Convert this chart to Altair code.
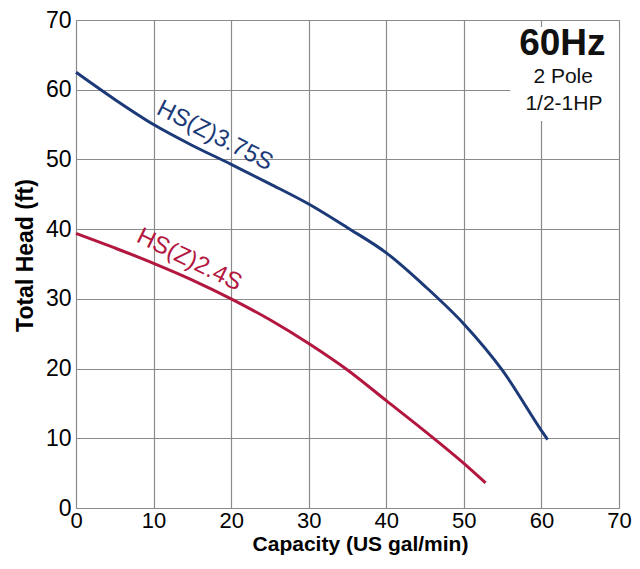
import altair as alt
import pandas as pd

# Curve data
blue_x = [0, 5, 10, 15, 20, 25, 30, 35, 40, 45, 50, 55, 60, 60.8]
blue_y = [62.5, 58.6, 55.0, 52.0, 49.3, 46.5, 43.6, 40.2, 36.6, 31.8, 26.4, 19.7, 11.1, 9.8]
red_x = [0, 5, 10, 15, 20, 25, 30, 35, 40, 45, 50, 52.8]
red_y = [39.4, 37.3, 35.1, 32.7, 30.0, 27.0, 23.6, 19.8, 15.4, 11.0, 6.4, 3.6]

series_names = ["HS(Z)3.75S", "HS(Z)2.4S"]
series_colors = ["#1c3a78", "#b3173f"]

# Curve labels (data coordinates and angle)
label_x = [17.9, 14.6]
label_y = [53.4, 35.6]
label_angle = [27, 26]

# Annotation block
note_text = ["60Hz", "2 Pole", "1/2-1HP"]
note_x = [62.7, 62.8, 62.9]
note_y = [66.6, 61.8, 57.9]
note_size = [37, 21, 21]
note_weight = ["bold", "normal", "normal"]

ticks = [0, 10, 20, 30, 40, 50, 60, 70]

FONT = "Liberation Sans"

rows = []
for xv, yv in zip(blue_x, blue_y):
    rows.append({"q": xv, "h": yv, "s": series_names[0]})
for xv, yv in zip(red_x, red_y):
    rows.append({"q": xv, "h": yv, "s": series_names[1]})
curves = pd.DataFrame(rows)

xs = alt.Scale(domain=[0, 70], nice=False, zero=False)
ys = alt.Scale(domain=[0, 70], nice=False, zero=False)
color = alt.Scale(domain=series_names, range=series_colors)

base_x = alt.X("q:Q", scale=xs, title="Capacity (US gal/min)",
               axis=alt.Axis(values=ticks, grid=True, ticks=False, domain=False,
                             labelFontSize=22, labelFont=FONT, labelColor="black",
                             labelPadding=2, titleFontSize=21, titleFont=FONT,
                             titleFontWeight="bold", titleColor="black",
                             titlePadding=2, titleX=284, gridColor="#8a8a8a", gridWidth=1.2,
                             labelFlush=False))
base_y = alt.Y("h:Q", scale=ys, title="Total Head (ft)",
               axis=alt.Axis(values=ticks, grid=True, ticks=False, domain=False,
                             labelFontSize=23, labelFont=FONT, labelColor="black",
                             labelPadding=5, titleFontSize=23, titleFont=FONT,
                             titleFontWeight="bold", titleColor="black",
                             titlePadding=8, titleY=235, gridColor="#8a8a8a", gridWidth=1.2,
                             labelFlush=False))

lines = alt.Chart(curves).mark_line(strokeWidth=3, interpolate="monotone").encode(
    x=base_x, y=base_y,
    color=alt.Color("s:N", scale=color, legend=None),
    detail="s:N",
)

box = alt.Chart(pd.DataFrame({"x1": [56.0], "x2": [70.0], "y1": [55.5], "y2": [69.0]})).mark_rect(
    color="white").encode(
    x=alt.X("x1:Q", scale=xs), x2="x2:Q",
    y=alt.Y("y1:Q", scale=ys), y2="y2:Q",
)

labels_df = pd.DataFrame({"x": label_x, "y": label_y, "t": series_names, "a": label_angle})
curve_labels = []
for i in range(len(series_names)):
    curve_labels.append(
        alt.Chart(labels_df.iloc[[i]]).mark_text(
            font=FONT, fontSize=24, angle=label_angle[i], color=series_colors[i]
        ).encode(x=alt.X("x:Q", scale=xs), y=alt.Y("y:Q", scale=ys), text="t:N")
    )

notes_df = pd.DataFrame({"x": note_x, "y": note_y, "t": note_text})
notes = []
for i in range(len(note_text)):
    notes.append(
        alt.Chart(notes_df.iloc[[i]]).mark_text(
            font=FONT, fontSize=note_size[i], fontWeight=note_weight[i], color="#111111"
        ).encode(x=alt.X("x:Q", scale=xs), y=alt.Y("y:Q", scale=ys), text="t:N")
    )

chart = alt.layer(lines, box, *curve_labels, *notes).properties(
    width=543, height=488,
    autosize=alt.AutoSizeParams(type="none"),
    padding={"left": 68, "top": 12, "right": 13, "bottom": 53},
).configure_view(stroke="black", strokeWidth=2.5).configure(background="white")

chart.save("out.html", embed_options={"renderer": "svg", "actions": False})
